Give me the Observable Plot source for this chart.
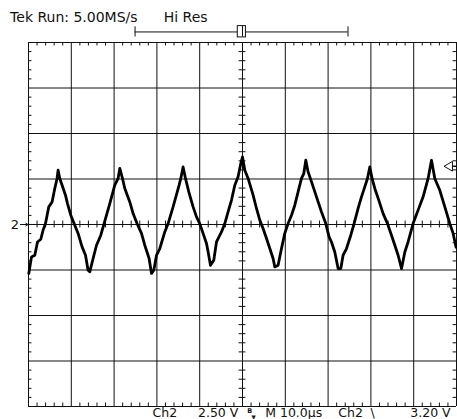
<!DOCTYPE html>
<html><head><meta charset="utf-8">
<script src="https://cdn.jsdelivr.net/npm/d3@7"></script>
<script src="https://cdn.jsdelivr.net/npm/@observablehq/plot@0.6"></script>
<style>html,body{margin:0;padding:0;background:#fff;} svg{display:block}</style>
</head><body><div id="chart"></div>
<script>
// Captured waveform (Ch2): time in µs, voltage in V relative to channel ground marker
const timeUs = [0.07,0.70,1.47,2.10,2.87,3.41,3.97,4.74,5.51,6.14,6.68,6.92,7.31,7.85,8.64,9.11,9.88,10.65,11.59,12.52,13.32,13.92,14.32,15.09,15.89,16.89,17.66,18.99,20.16,20.93,21.33,21.96,22.50,23.67,24.44,25.37,26.40,27.17,28.18,28.74,29.28,29.91,30.68,31.84,32.62,33.78,35.19,35.58,36.12,36.68,37.45,38.46,39.25,40.02,40.79,41.59,41.96,42.52,43.29,43.92,45.09,45.86,46.63,47.43,48.20,48.97,49.60,50.00,50.54,51.31,52.48,53.27,54.04,54.81,55.61,56.38,57.15,57.55,58.32,59.11,59.88,60.65,61.45,62.22,62.99,63.78,64.32,64.79,65.33,66.13,67.29,68.46,69.46,70.23,70.79,71.56,72.34,72.97,73.50,74.30,75.30,76.07,77.01,77.80,78.57,79.20,79.74,80.28,80.91,81.84,82.85,83.88,84.81,85.59,86.36,87.16,87.93,88.69,89.86,91.03,92.20,93.37,94.16,94.93,96.10,97.27,98.44,99.21,99.90];
const voltsV = [-2.69,-1.78,-1.69,-0.96,-0.81,-0.31,0.05,0.97,1.24,1.98,2.53,2.98,2.53,2.16,1.61,1.15,0.51,0.05,-0.49,-1.23,-1.69,-2.51,-2.60,-1.87,-1.14,-0.59,0.05,1.15,2.16,2.53,3.08,2.53,1.98,1.24,0.60,0.05,-0.49,-1.14,-1.87,-2.69,-2.51,-1.69,-1.32,-0.41,0.05,0.97,2.16,2.53,3.16,2.53,1.79,0.97,0.42,0.05,-0.49,-1.04,-1.50,-2.24,-1.96,-0.96,-0.41,0.05,0.69,1.34,2.16,2.62,3.35,3.71,2.98,2.53,1.61,0.88,0.24,-0.22,-0.77,-1.32,-1.87,-2.33,-2.24,-1.32,-0.49,0.05,0.51,1.06,1.79,2.53,2.80,3.53,2.89,2.34,1.52,0.69,0.05,-0.68,-0.96,-1.51,-2.42,-2.42,-1.69,-1.32,-0.59,0.05,0.88,1.52,2.07,2.53,3.16,2.53,1.98,1.34,0.60,0.05,-0.59,-1.14,-1.69,-2.42,-1.51,-0.96,0.05,0.79,1.52,2.53,3.53,2.53,1.88,0.97,0.05,-0.49,-1.25];

// Screen graticule: 10 horizontal divisions of 10 µs, 8 vertical divisions of 2.5 V
const timeDomain = [0, 100];
const voltDomain = [-10, 10];
const majorT = d3.range(0, 100.001, 10);
const majorV = d3.range(-10, 10.001, 2.5);
const minorT = d3.range(0, 100.001, 2).filter(t => t % 10 !== 0);
const minorV = d3.range(-10, 10.001, 0.5).filter(v => v % 2.5 !== 0);

// Texts
const headerTexts = ["Tek Run: 5.00MS/s", "Hi Res"];
const footerTexts = ["Ch2", "2.50 V", "M 10.0µs", "Ch2", "\\", "3.20 V"];
const channelMarker = "2";
const triggerLevelV = 3.2;

const trace = timeUs.map((t, i) => ({t, v: voltsV[i]}));

// annotation anchors (data units of the screen)
const headerPos = [{t: -4.3, v: 11.65}, {t: 31.6, v: 11.65}];
const footerPos = [{t: 29.0}, {t: 39.6}, {t: 55.3}, {t: 72.4}, {t: 79.9}, {t: 89.2}];
const tv = 0.19, tt = 0.8; // minor tick lengths

const header = headerTexts.map((s, i) => ({s, ...headerPos[i]}));
const footer = footerTexts.map((s, i) => ({s, v: -10.08, ...footerPos[i]}));

const font = "DejaVu Sans";
const plot = Plot.plot({
  width: 457, height: 419,
  marginLeft: 28, marginRight: 1, marginTop: 42, marginBottom: 13,
  x: {domain: timeDomain, axis: null},
  y: {domain: voltDomain, axis: null},
  style: {background: "#fff", fontFamily: font},
  marks: [
    Plot.ruleX(majorT, {x: d => d, y1: -10, y2: 10, stroke: "#111", strokeWidth: 1}),
    Plot.ruleY(majorV, {y: d => d, x1: 0, x2: 100, stroke: "#111", strokeWidth: 1}),
    // border & centre-axis minor ticks
    Plot.ruleX(minorT, {x: d => d, y1: 10, y2: 10 - tv, stroke: "#111"}),
    Plot.ruleX(minorT, {x: d => d, y1: -10, y2: -10 + tv, stroke: "#111"}),
    Plot.ruleX(minorT, {x: d => d, y1: -tv, y2: tv, stroke: "#111"}),
    Plot.ruleY(minorV, {y: d => d, x1: 0, x2: tt, stroke: "#111"}),
    Plot.ruleY(minorV, {y: d => d, x1: 100 - tt, x2: 100, stroke: "#111"}),
    Plot.ruleY(minorV, {y: d => d, x1: 50 - tt, x2: 50 + tt, stroke: "#111"}),
    // waveform
    Plot.line(trace, {x: "t", y: "v", stroke: "#000", strokeWidth: 2.8, strokeLinejoin: "round", curve: "linear"}),
    // record/trigger position bar at top
    Plot.ruleY([10.58], {x1: 24.9, x2: 74.65, stroke: "#111"}),
    Plot.ruleX([24.9, 74.65], {x: d => d, y1: 10.3, y2: 10.86, stroke: "#111"}),
    Plot.rect([{}], {x1: 48.9, x2: 50.8, y1: 10.28, y2: 10.9, fill: "#fff", stroke: "#111", strokeWidth: 1}),
    Plot.ruleX([50], {x: d => d, y1: 10.3, y2: 10.88, stroke: "#111"}),
    // header & footer texts
    Plot.text(header, {x: "t", y: "v", text: "s", textAnchor: "start", lineAnchor: "top", fontSize: 14, fill: "#111"}),
    Plot.text(footer, {x: "t", y: "v", text: "s", textAnchor: "start", lineAnchor: "top", fontSize: 12.5, fill: "#111"}),
    Plot.text(["B"], {x: 51.7, y: -10.12, text: d => d, lineAnchor: "top", fontSize: 6.5, fontWeight: "bold", fill: "#111"}),
    Plot.text(["\u25BC"], {x: 52.6, y: -10.45, text: d => d, lineAnchor: "top", fontSize: 5.5, fill: "#111"}),
    // channel ground marker and trigger level marker
    Plot.text([channelMarker], {x: -3.2, y: 0, text: d => d, fontSize: 13, fill: "#111"}),
    Plot.arrow([{}], {x1: -1.9, x2: -0.1, y1: 0, y2: 0, stroke: "#111", strokeWidth: 1, headLength: 4}),
    Plot.ruleY([triggerLevelV], {x1: 98.9, x2: 100, stroke: "#111", strokeWidth: 1.5}),
    Plot.dot([triggerLevelV], {x: 98.4, y: d => d, symbol: "triangle", rotate: -90, r: 3.6, fill: "#fff", stroke: "#111", strokeWidth: 1})
  ]
});
document.getElementById("chart").appendChild(plot);
</script>
</body></html>
